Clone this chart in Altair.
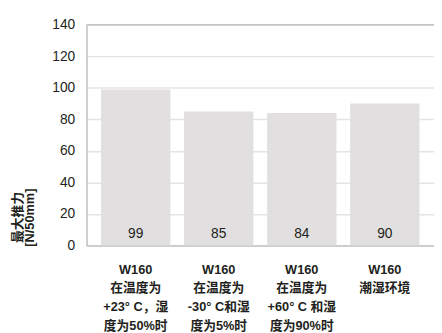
import altair as alt
import pandas as pd

categories = [
    "W160|在温度为|+23° C，湿|度为50%时",
    "W160|在温度为|-30° C和湿|度为5%时",
    "W160|在温度为|+60° C 和湿|度为90%时",
    "W160|潮湿环境",
]
values = [99, 85, 84, 90]
y_ticks = [0, 20, 40, 60, 80, 100, 120, 140]
y_title = ["最大推力", "[N/50mm]"]

df = pd.DataFrame({"cat": categories, "val": values, "base": [0] * len(values)})

FONT = "Liberation Sans, Arial, Noto Sans CJK SC"
TXT = "#231f20"

x_axis = alt.Axis(
    title=None,
    labelAngle=0,
    labelExpr="split(datum.label, '|')",
    labelFontSize=13,
    labelFontWeight="bold",
    labelColor=TXT,
    labelFont=FONT,
    labelLineHeight=19,
    labelPadding=18,
    labelLimit=200,
    ticks=False,
    domainColor="#c4c4c4",
    domainWidth=1.5,
)
x_scale = alt.Scale(paddingInner=0.165, paddingOuter=0.175)

y_axis = alt.Axis(
    values=y_ticks,
    title=y_title,
    titleFont=FONT,
    titleFontSize=13,
    titleFontWeight="bold",
    titleColor=TXT,
    titleX=-63,
    titleY=196,
    titleAlign="center",
    titleLineHeight=12,
    labelFontSize=14,
    labelColor=TXT,
    labelFont=FONT,
    labelPadding=12,
    labelOverlap=False,
    ticks=False,
    domainColor="#c4c4c4",
    domainWidth=1.5,
    gridColor="#e4e4e4",
    gridWidth=1.5,
)
y_scale = alt.Scale(domain=[0, 140], nice=False)

bars = alt.Chart(df).mark_bar(color="#e1dfdf").encode(
    x=alt.X("cat:N", sort=categories, scale=x_scale, axis=x_axis),
    y=alt.Y("val:Q", scale=y_scale, axis=y_axis),
)

labels = alt.Chart(df).mark_text(
    fontSize=14, color=TXT, font=FONT, baseline="middle", dy=-12
).encode(
    x=alt.X("cat:N", sort=categories, scale=x_scale, axis=x_axis),
    y=alt.Y("base:Q", scale=y_scale, axis=y_axis),
    text=alt.Text("val:Q"),
)

top_rule = alt.Chart(pd.DataFrame({"top": [140]})).mark_rule(
    color="#c4c4c4", strokeWidth=1.5
).encode(y=alt.Y("top:Q", scale=y_scale, axis=y_axis))

chart = (
    alt.layer(bars, labels, top_rule)
    .properties(
        width=354,
        height=225,
        autosize=alt.AutoSizeParams(type="none"),
        padding={"left": 80, "top": 14, "right": 0, "bottom": 86},
    )
    .configure_view(stroke=None)
    .configure(background="white")
)

chart.save("out.html", embed_options={"renderer": "svg", "actions": False})
